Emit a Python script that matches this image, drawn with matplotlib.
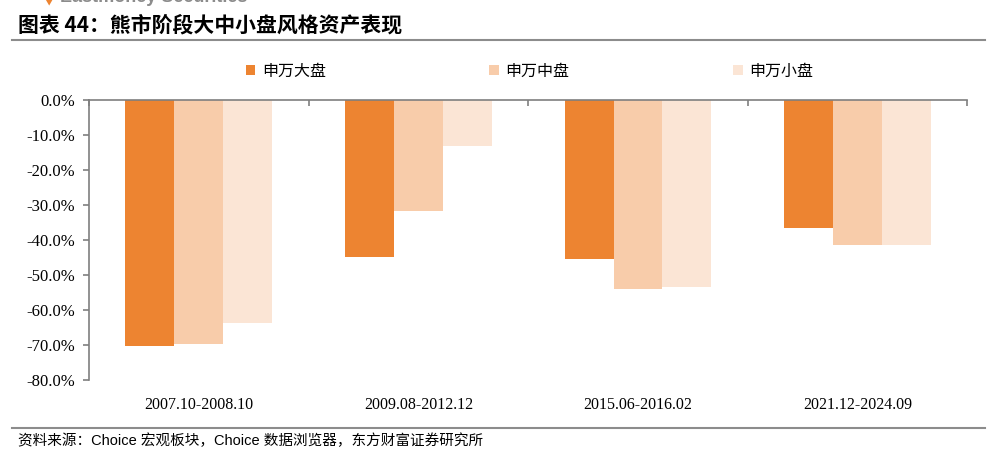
import matplotlib.pyplot as plt
import numpy as np
from matplotlib.ticker import FuncFormatter

plt.rcParams['font.family'] = ['Noto Sans CJK SC', 'DejaVu Sans']

periods = ["2007.10-2008.10", "2009.08-2012.12", "2015.06-2016.02", "2021.12-2024.09"]
series_names = ["申万大盘", "申万中盘", "申万小盘"]
large_cap = [-70.3, -44.9, -45.4, -36.7]
mid_cap = [-69.8, -31.6, -54.1, -41.5]
small_cap = [-63.6, -13.3, -53.5, -41.5]
colors = ["#ED8431", "#F8CCAA", "#FBE5D5"]

fig = plt.figure(figsize=(9.97, 4.54), dpi=100)
ax = fig.add_axes([0.0893, 0.163, 0.881, 0.617])

x = np.arange(len(periods))
w = 0.223
for i, vals in enumerate([large_cap, mid_cap, small_cap]):
    ax.bar(x + (i - 1) * w, vals, w, color=colors[i], label=series_names[i])

ax.set_ylim(-80, 0)
ax.set_xlim(-0.5, len(periods) - 0.5)
ax.set_yticks(np.arange(-80, 1, 10))
ax.yaxis.set_major_formatter(FuncFormatter(lambda v, p: f"{v:.1f}%"))
ax.set_xticks(x)
ax.set_xticklabels(periods)
ax.set_xticks(np.arange(-0.5, len(periods), 1), minor=True)

for s in ["bottom", "right"]:
    ax.spines[s].set_visible(False)
for s in ["left", "top"]:
    ax.spines[s].set_color("#7f7f7f")
    ax.spines[s].set_linewidth(1.2)

ax.tick_params(axis="x", which="major", length=0, pad=12, labelsize=11.5)
ax.tick_params(axis="x", which="minor", top=True, bottom=False, direction="in",
               length=4, color="#7f7f7f", width=1.2)
ax.tick_params(axis="y", length=4, color="#7f7f7f", width=1.2, labelsize=12, pad=6)
for lab in ax.get_xticklabels() + ax.get_yticklabels():
    lab.set_family("Liberation Serif")

leg = fig.legend(loc="center", bbox_to_anchor=(0.531, 0.843), ncol=3, frameon=False,
                 fontsize=11.5, handlelength=0.6, handleheight=0.6, handletextpad=0.4,
                 columnspacing=10.25)

# header / footer
fig.text(0.045, 0.995, "\u25bc", color="#ED8431", fontsize=6, va="center")
fig.text(0.06, 1.005, "Eastmoney Securities", color="#8c8c8c", fontsize=13,
         fontweight="bold", family="Liberation Sans", va="center")
fig.text(0.018, 0.945, "图表 44：熊市阶段大中小盘风格资产表现", fontsize=15,
         fontweight="bold", va="center")
fig.add_artist(plt.Line2D([0.012, 0.988], [0.912, 0.912], color="#8c8c8c", lw=1.5))
fig.add_artist(plt.Line2D([0.012, 0.988], [0.058, 0.058], color="#8c8c8c", lw=1.5))
fig.text(0.018, 0.028, "资料来源：Choice 宏观板块，Choice 数据浏览器，东方财富证券研究所",
         fontsize=10.5, va="center", family=["Liberation Sans", "Noto Sans CJK SC"])

fig.savefig("out.png", dpi=100)
